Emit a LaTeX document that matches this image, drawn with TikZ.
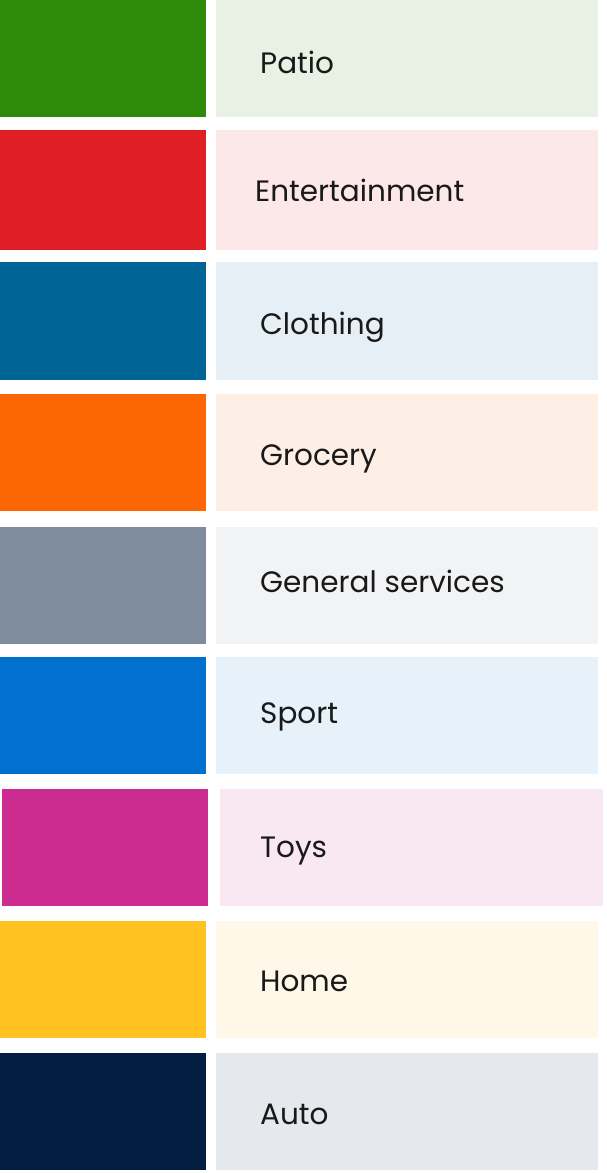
\documentclass[tikz,border=0pt]{standalone}
\usepackage{fontspec}
\setmainfont{Poppins}
\definecolor{c1}{HTML}{2E8A08}\definecolor{l1}{HTML}{E7F2E4}
\definecolor{c2}{HTML}{E01E26}\definecolor{l2}{HTML}{FCE8E9}
\definecolor{c3}{HTML}{006496}\definecolor{l3}{HTML}{E6EFF5}
\definecolor{c4}{HTML}{FD6604}\definecolor{l4}{HTML}{FEEFE6}
\definecolor{c5}{HTML}{7F8C9D}\definecolor{l5}{HTML}{F2F3F5}
\definecolor{c6}{HTML}{0071CE}\definecolor{l6}{HTML}{E6F1FA}
\definecolor{c7}{HTML}{CC2C8F}\definecolor{l7}{HTML}{F9E8F2}
\definecolor{c8}{HTML}{FFC220}\definecolor{l8}{HTML}{FFF8E8}
\definecolor{c9}{HTML}{041E42}\definecolor{l9}{HTML}{E5E8EC}
\tikzset{lbl/.style={anchor=base west,inner sep=0pt,font=\fontsize{29.5}{34}\selectfont,text=black!90}}
\begin{document}
\begin{tikzpicture}[x=1pt,y=-1pt]
\useasboundingbox (0,0) rectangle (606,1173);
\fill[c1] (0,0) rectangle (206,117);   \fill[l1] (216,0) rectangle (598,117);
\node[lbl] (t1) at (260,73) {Patio};
\fill[c2] (0,130) rectangle (206,249.5); \fill[l2] (216,130) rectangle (598,249.5);
\node[lbl] (t2) at (255,201) {Entertainment};
\fill[c3] (0,262) rectangle (206,379.5); \fill[l3] (216,262) rectangle (598,379.5);
\node[lbl] (t3) at (260,334) {Clothing};
\fill[c4] (0,394) rectangle (206,511); \fill[l4] (216,394) rectangle (598,511);
\node[lbl] (t4) at (260,465) {Grocery};
\fill[c5] (0,527) rectangle (206,643.5); \fill[l5] (216,527) rectangle (598,643.5);
\node[lbl] (t5) at (260,592) {General services};
\fill[c6] (0,657) rectangle (206,773.5); \fill[l6] (216,657) rectangle (598,773.5);
\node[lbl] (t6) at (260,723) {Sport};
\fill[c7] (2,789) rectangle (208,906); \fill[l7] (220,789) rectangle (603,906);
\node[lbl] (t7) at (260,857) {Toys};
\fill[c8] (0,921) rectangle (206,1038); \fill[l8] (216,921) rectangle (598,1038);
\node[lbl] (t8) at (260,991) {Home};
\fill[c9] (0,1053) rectangle (206,1170); \fill[l9] (216,1053) rectangle (598,1170);
\node[lbl] (t9) at (260,1124) {Auto};
\end{tikzpicture}
\end{document}
